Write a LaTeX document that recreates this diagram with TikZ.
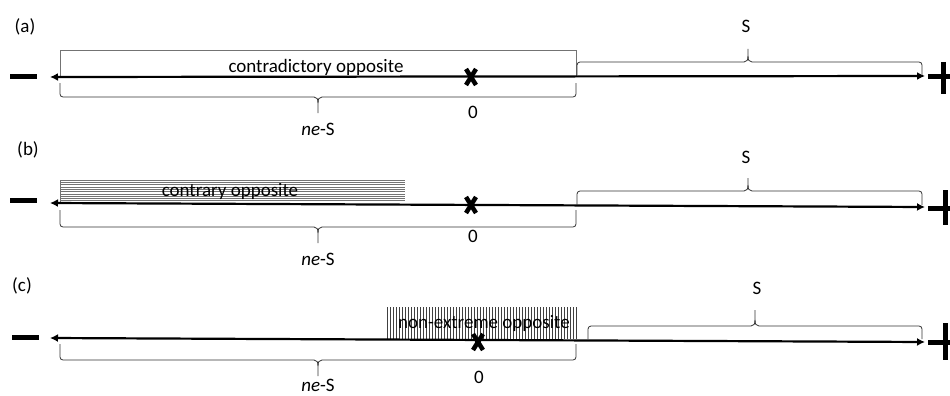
\documentclass[tikz,border=0pt]{standalone}
\usepackage{fontspec}
\setmainfont{Carlito}
\usetikzlibrary{arrows.meta,calc}
\tikzset{
  axis/.style={line width=2.2pt,{Latex[length=8pt,width=8pt]}-{Latex[length=8pt,width=8pt]}},
  bracestyle/.style={draw=black!80,line width=0.8pt},
  lbl/.style={inner sep=0pt,font=\fontsize{19}{19}\selectfont},
  xmark/.style={line width=4.5pt},
  barmark/.style={line width=5pt},
  hatchh/.style={draw=black!55,line width=0.6pt},
  hatchv/.style={draw=black!75,line width=0.6pt},
  oppbox/.style={draw=black!55,line width=0.7pt}
}
% horizontal brace: x1, x2, xm, yend, ybar, ytip, sign
\newcommand{\hbr}[7]{%
  \draw[bracestyle,rounded corners=3pt] (#1,#4) -- (#1,#5) -- ({#3-4},#5);
  \draw[bracestyle] ({#3-4},#5) .. controls ({#3-1},#5) and (#3,{#5+#7*2}) .. (#3,{#5+#7*6}) -- (#3,#6);
  \draw[bracestyle] (#3,{#5+#7*6}) .. controls (#3,{#5+#7*2}) and ({#3+1},#5) .. ({#3+4},#5);
  \draw[bracestyle,rounded corners=3pt] ({#3+4},#5) -- (#2,#5) -- (#2,#4);
}
\begin{document}
\begin{tikzpicture}[x=1pt,y=-1pt]
\useasboundingbox (0,0) rectangle (950,396);
% ---------- (a) ----------
\node[lbl] (la) at (25,27) {(a)};
\draw[oppbox] (60,77) -- (60,50) -- (576,50) -- (576,77);
\node[lbl] (ta) at (316,67) {contradictory opposite};
\coordinate (aL) at (50,77);
\coordinate (aR) at (925,76);
\draw[axis] (aL) -- (aR);
\draw[barmark] (10,76) -- (37,76);
\draw[barmark] (928,76) -- (950,76);
\draw[barmark] (943.5,62) -- (943.5,94);
\coordinate (xa) at (471,77);
\draw[xmark] ($(xa)+(-5,-8)$) -- ($(xa)+(5,8)$);
\draw[xmark] ($(xa)+(5,-8)$) -- ($(xa)+(-5,8)$);
\hbr{60}{576}{318}{83}{97}{113}{1}
\node[lbl] (nea) at (318,129) {\textit{ne}-S};
\node[lbl] (za) at (473,112) {0};
\hbr{577}{922}{748}{75}{62}{49}{-1}
\node[lbl] (sa) at (746,26) {S};
% ---------- (b) ----------
\node[lbl] (lb) at (28,150) {(b)};
\foreach \i in {0,...,9} { \draw[hatchh] (60,{180+2.3*\i}) -- (405,{180+2.3*\i}); }
\draw[hatchh] (60,180) -- (60,203);
\node[lbl] (tb) at (230,191) {contrary opposite};
\coordinate (bL) at (50,203);
\coordinate (bR) at (925,207);
\draw[axis] (bL) -- (bR);
\draw[barmark] (10,200) -- (37,200);
\draw[barmark] (928,208) -- (950,208);
\draw[barmark] (945,190) -- (945,225);
\coordinate (xb) at (471,205);
\draw[xmark] ($(xb)+(-5,-8)$) -- ($(xb)+(5,8)$);
\draw[xmark] ($(xb)+(5,-8)$) -- ($(xb)+(-5,8)$);
\hbr{60}{576}{318}{210}{227}{243}{1}
\node[lbl] (neb) at (318,259) {\textit{ne}-S};
\node[lbl] (zb) at (473,236) {0};
\hbr{577}{922}{748}{205}{191}{178}{-1}
\node[lbl] (sb) at (746,157) {S};
% ---------- (c) ----------
\node[lbl] (lc) at (22,286) {(c)};
\foreach \i in {0,...,63} { \draw[hatchv] ({387+3*\i},307) -- ({387+3*\i},339); }
\node[lbl] (tc) at (484,323) {non-extreme opposite};
\coordinate (cL) at (50,338);
\coordinate (cR) at (925,342);
\draw[axis] (cL) -- (cR);
\draw[barmark] (12,337) -- (39,337);
\draw[barmark] (928,342) -- (950,342);
\draw[barmark] (945,323) -- (945,360);
\coordinate (xc) at (478,342);
\draw[xmark] ($(xc)+(-5,-8)$) -- ($(xc)+(5,8)$);
\draw[xmark] ($(xc)+(5,-8)$) -- ($(xc)+(-5,8)$);
\hbr{60}{576}{318}{344}{360}{376}{1}
\node[lbl] (nec) at (318,385) {\textit{ne}-S};
\node[lbl] (zc) at (479,377) {0};
\hbr{588}{922}{755}{339}{326}{310}{-1}
\node[lbl] (sc) at (757,288) {S};
\end{tikzpicture}
\end{document}
